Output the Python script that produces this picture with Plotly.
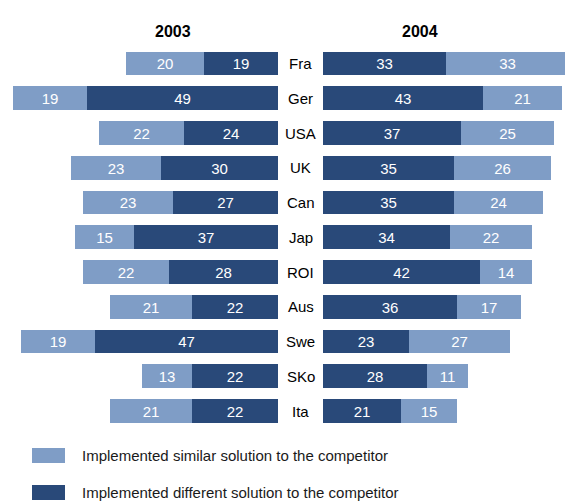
import plotly.graph_objects as go

countries = ["Fra", "Ger", "USA", "UK", "Can", "Jap", "ROI", "Aus", "Swe", "SKo", "Ita"]
similar_2003 = [20, 19, 22, 23, 23, 15, 22, 21, 19, 13, 21]
different_2003 = [19, 49, 24, 30, 27, 37, 28, 22, 47, 22, 22]
different_2004 = [33, 43, 37, 35, 35, 34, 42, 36, 23, 28, 21]
similar_2004 = [33, 21, 25, 26, 24, 22, 14, 17, 27, 11, 15]

LIGHT = "#7f9dc6"
DARK = "#294979"
FONT = "Liberation Sans, Arial, sans-serif"
W, H = 565, 501

fig = go.Figure()

def bar(x, color, xaxis):
    return go.Bar(
        y=countries, x=x, orientation="h", marker=dict(color=color, line=dict(width=0)),
        text=[str(v) for v in x], textposition="inside", insidetextanchor="middle",
        textangle=0, textfont=dict(color="white", size=15, family=FONT),
        width=0.69, xaxis=xaxis, yaxis="y", showlegend=False, hoverinfo="skip",
    )

# 2003 panel (bars grow leftwards): different next to the labels, similar outside
fig.add_trace(bar(different_2003, DARK, "x"))
fig.add_trace(bar(similar_2003, LIGHT, "x"))
# 2004 panel (bars grow rightwards)
fig.add_trace(bar(different_2004, DARK, "x2"))
fig.add_trace(bar(similar_2004, LIGHT, "x2"))

left_edge = 278
right_start = 323
fig.update_layout(
    width=W, height=H, margin=dict(l=0, r=0, t=0, b=0),
    paper_bgcolor="white", plot_bgcolor="white",
    barmode="stack", bargap=0,
    xaxis=dict(domain=[0, left_edge / W], range=[left_edge / 3.9, 0], visible=False, fixedrange=True),
    xaxis2=dict(domain=[right_start / W, 1], range=[0, (W - right_start) / 3.73], visible=False,
                anchor="y", fixedrange=True),
    yaxis=dict(type="category", categoryorder="array", categoryarray=countries,
               range=[(H - 63.5) / 34.75, -63.5 / 34.75], visible=False, fixedrange=True),
    font=dict(family=FONT),
)

annotations = []
for c in countries:
    annotations.append(dict(x=300.5 / W, xref="paper", y=c, yref="y", text=c, showarrow=False,
                            font=dict(size=15, color="black", family=FONT), xanchor="center"))
for label, px in [("2003", 153), ("2004", 440)]:
    annotations.append(dict(x=px / W, xref="paper", y=1 - 21 / H, yref="paper", text=f"<b>{label}</b>",
                            showarrow=False, font=dict(size=16, color="black", family=FONT)))

legend_items = [("Implemented similar solution to the competitor", LIGHT, 448, 463),
                ("Implemented different solution to the competitor", DARK, 485, 500)]
shapes = []
for text, color, top, bottom in legend_items:
    shapes.append(dict(type="rect", xref="paper", yref="paper", x0=32 / W, x1=65 / W,
                       y0=1 - bottom / H, y1=1 - top / H, fillcolor=color, line=dict(width=0)))
    annotations.append(dict(x=80 / W, xref="paper", y=1 - (top + bottom) / 2 / H, yref="paper",
                            text=text, showarrow=False, xanchor="left", yanchor="middle",
                            font=dict(size=15, color="#1a1a1a", family=FONT)))

fig.update_layout(annotations=annotations, shapes=shapes)
fig.write_html("out.html")
